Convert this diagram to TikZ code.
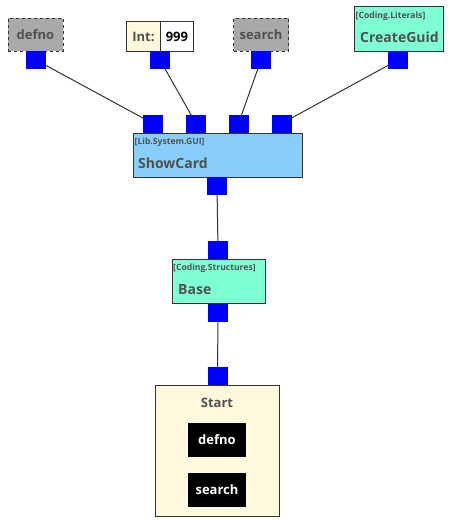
\documentclass[tikz,border=0pt]{standalone}
\usepackage{fontspec}
\setmainfont{Open Sans}
\usetikzlibrary{positioning,backgrounds}
\definecolor{portblue}{RGB}{0,0,255}
\definecolor{txtgray}{RGB}{80,80,80}
\definecolor{skyfill}{RGB}{135,206,250}
\definecolor{aquafill}{RGB}{127,255,212}
\definecolor{silkfill}{RGB}{255,248,220}
\definecolor{varfill}{RGB}{169,169,169}
\tikzset{
	box/.style={draw=black!80,line width=0.9pt,inner sep=0pt,anchor=north west},
	port/.style={fill=portblue,minimum width=20pt,minimum height=18pt,inner sep=0pt},
	var/.style={draw=black!80,line width=0.9pt,dashed,fill=varfill,minimum width=55pt,minimum height=33pt,inner sep=0pt,font=\bfseries\fontsize{13}{15}\selectfont,text=txtgray},
	tag/.style={font=\bfseries\fontsize{8.6}{10}\selectfont,text=txtgray,anchor=west,inner sep=0pt},
	title/.style={font=\bfseries\fontsize{14}{16}\selectfont,text=txtgray,anchor=west,inner sep=0pt},
	blk/.style={fill=black,text=white,minimum width=58pt,minimum height=34pt,font=\bfseries\fontsize{13}{15}\selectfont,inner sep=0pt},
	wire/.style={draw=black!80,line width=1pt}
}
\begin{document}
\begin{tikzpicture}[x=1pt,y=-1pt]
	\useasboundingbox (0,0) rectangle (454,525);
	% inputs
	\node[var] (defno) at (35.5,34.5) {defno};
	\node[box,fill=silkfill,minimum width=34pt,minimum height=30pt,font=\bfseries\fontsize{13}{15}\selectfont,text=txtgray] (intkey) at (126,21) {Int:};
	\node[box,fill=white,minimum width=33pt,minimum height=30pt,font=\bfseries\fontsize{13}{15}\selectfont] (intval) at (160,21) {999};
	\node[var] (search) at (261,34.5) {search};
	\node[box,fill=aquafill,minimum width=89pt,minimum height=45pt] (guid) at (354,6) {};
	\node[tag] (guidtag) at (355.5,16) {[Coding.Literals]};
	\node[title] (guidname) at (360,37) {CreateGuid};
	\foreach \n/\x in {defno/36,int/160,search/261,guid/398}
		\node[port] (p\n) at (\x,60) {};
	% ShowCard
	\node[box,fill=skyfill,minimum width=169pt,minimum height=44pt] (showcard) at (133,133) {};
	\node[tag] (sctag) at (134.5,142) {[Lib.System.GUI]};
	\node[title] (scname) at (138,163) {ShowCard};
	\foreach \i/\x in {1/153,2/196,3/238.5,4/281.5}
		\node[port] (sc\i) at (\x,123.5) {};
	\node[port] (scout) at (217,186) {};
	% Base
	\node[box,fill=aquafill,minimum width=93pt,minimum height=44pt] (base) at (172,259) {};
	\node[tag] (basetag) at (173,268) {[Coding.Structures]};
	\node[title] (basename) at (178,290) {Base};
	\node[port] (basein) at (218,249.5) {};
	\node[port] (baseout) at (218,312.5) {};
	% Start
	\node[box,fill=silkfill,minimum width=124pt,minimum height=131pt] (start) at (155,385) {};
	\node[font=\bfseries\fontsize{13}{15}\selectfont,text=txtgray,inner sep=0pt] (startname) at (217,403) {Start};
	\node[port] (startin) at (217.5,376) {};
	\node[blk] (sdefno) at (217,440) {defno};
	\node[blk] (ssearch) at (217,490) {search};
	\begin{scope}[on background layer]
		\draw[wire] (pdefno.center) -- (sc1.center);
		\draw[wire] (pint.center) -- (sc2.center);
		\draw[wire] (psearch.center) -- (sc3.center);
		\draw[wire] (pguid.center) -- (sc4.center);
		\draw[wire] (scout.center) -- (basein.center);
		\draw[wire] (baseout.center) -- (startin.center);
	\end{scope}
\end{tikzpicture}
\end{document}
